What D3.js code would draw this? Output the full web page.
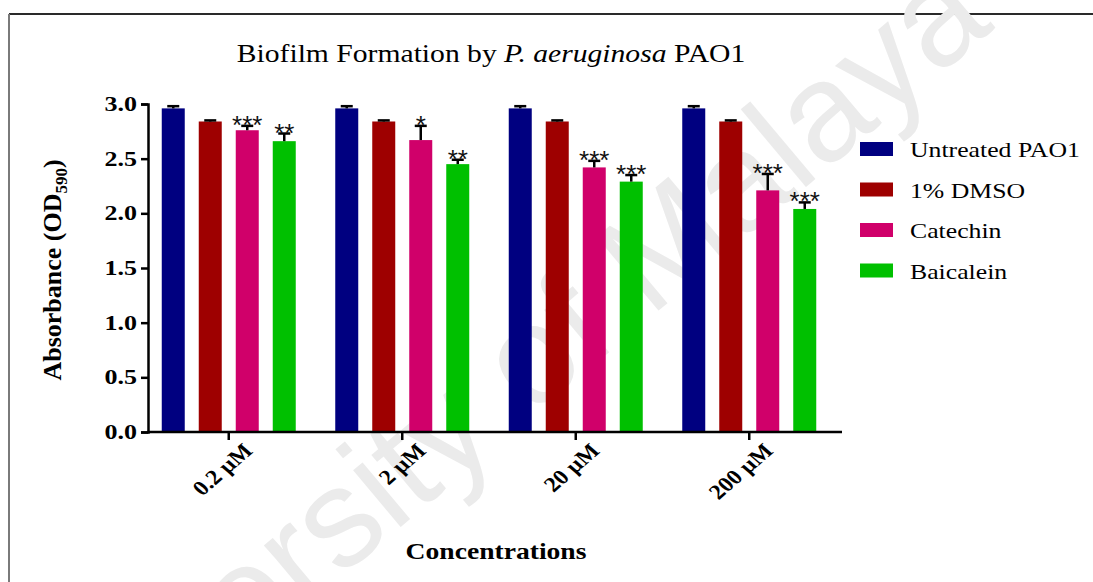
<!DOCTYPE html>
<html>
<head>
<meta charset="utf-8">
<script src="https://cdn.jsdelivr.net/npm/d3@7"></script>
<style>
  html, body { margin: 0; padding: 0; background: #fff; }
  svg { display: block; }
</style>
</head>
<body>
<svg id="chart" width="1093" height="582"></svg>
<script>
// ---- data ----
const concentrations = ["0.2 \u00b5M", "2 \u00b5M", "20 \u00b5M", "200 \u00b5M"];
const seriesNames = ["Untreated PAO1", "1% DMSO", "Catechin", "Baicalein"];
const untreated     = [2.96, 2.96, 2.96, 2.96];
const untreatedErr  = [0.02, 0.02, 0.02, 0.02];
const dmso          = [2.84, 2.84, 2.84, 2.84];
const dmsoErr       = [0.01, 0.01, 0.01, 0.01];
const catechin      = [2.76, 2.67, 2.42, 2.21];
const catechinErr   = [0.04, 0.13, 0.06, 0.15];
const baicalein     = [2.66, 2.45, 2.29, 2.04];
const baicaleinErr  = [0.07, 0.04, 0.06, 0.06];
const catechinSig   = ["***", "*", "***", "***"];
const baicaleinSig  = ["**", "**", "***", "***"];
const yTicks = [0, 0.5, 1.0, 1.5, 2.0, 2.5, 3.0];
const colors = ["#000080", "#9e0000", "#d0006a", "#00c000"];

const values = [untreated, dmso, catechin, baicalein];
const errors = [untreatedErr, dmsoErr, catechinErr, baicaleinErr];
const sigs   = [null, null, catechinSig, baicaleinSig];

const serif = "'Liberation Serif', 'Times New Roman', serif";
const sans  = "'Liberation Sans', Arial, sans-serif";

const svg = d3.select("#chart");

// page frame
svg.append("line").attr("x1", 9).attr("x2", 1093).attr("y1", 14).attr("y2", 14)
  .attr("stroke", "#2a2a2a").attr("stroke-width", 2);
svg.append("line").attr("x1", 9).attr("x2", 9).attr("y1", 14).attr("y2", 582)
  .attr("stroke", "#7a7a7a").attr("stroke-width", 2);

// faint watermark behind the chart
svg.append("text")
  .attr("transform", "translate(30,838) rotate(-40)")
  .attr("font-family", sans).attr("font-size", 140)
  .attr("fill", "#ebebeb")
  .text("University of Malaya");

// scales
const x0 = d3.scaleBand().domain(concentrations).range([142, 836]);
const x1 = d3.scaleBand().domain(seriesNames).range([-67, 67]).paddingInner(14 / 37).paddingOuter(0);
const y = d3.scaleLinear().domain([0, 3]).range([432, 104]);

// helper for horizontally stretched text
function stext(parent, x, yy, str, opts) {
  const g = parent.append("g")
    .attr("transform", `translate(${x},${yy}) scale(${opts.sx || 1},1)` + (opts.rotate ? ` rotate(${opts.rotate})` : ""));
  const t = g.append("text")
    .attr("font-family", opts.family || serif)
    .attr("font-size", opts.size)
    .attr("font-weight", opts.weight || 400)
    .attr("text-anchor", opts.anchor || "start")
    .attr("fill", opts.fill || "#000");
  if (typeof str === "string") t.text(str);
  else str(t);
  return g;
}

// bars
const groups = svg.append("g");
seriesNames.forEach((name, si) => {
  concentrations.forEach((c, ci) => {
    const v = values[si][ci];
    const bx = x0(c) + x0.bandwidth() / 2 + x1(name);
    const w = x1.bandwidth();
    groups.append("rect")
      .attr("x", bx).attr("y", y(v))
      .attr("width", w).attr("height", y(0) - y(v))
      .attr("fill", colors[si]);
    // error bar (upper only)
    const mid = bx + w / 2;
    const top = y(v + errors[si][ci]);
    groups.append("line").attr("x1", mid).attr("x2", mid).attr("y1", y(v)).attr("y2", top)
      .attr("stroke", "#000").attr("stroke-width", 2.5);
    groups.append("line").attr("x1", mid - 6).attr("x2", mid + 6).attr("y1", top).attr("y2", top)
      .attr("stroke", "#000").attr("stroke-width", 2.5);
    // significance stars
    if (sigs[si]) {
      groups.append("text")
        .attr("x", mid).attr("y", top + 8)
        .attr("text-anchor", "middle")
        .attr("font-family", sans).attr("font-size", 26)
        .attr("fill", "#111")
        .text(sigs[si][ci]);
    }
  });
});

// y axis
const yAxis = svg.append("g").attr("transform", "translate(148,0)")
  .call(d3.axisLeft(y).tickValues(yTicks).tickSize(7).tickFormat(d3.format(".1f")));
yAxis.select(".domain").attr("stroke", "#000").attr("stroke-width", 2.5);
yAxis.selectAll(".tick line").attr("stroke", "#000").attr("stroke-width", 2.5);
yAxis.selectAll(".tick text").remove();
yTicks.forEach(t => {
  stext(svg, 137, y(t) + 7, d3.format(".1f")(t), {size: 20, weight: 700, anchor: "end", sx: 1.3});
});

// x axis
svg.append("line").attr("x1", 147).attr("x2", 842).attr("y1", 432).attr("y2", 432)
  .attr("stroke", "#000").attr("stroke-width", 2.5);
const xAxis = svg.append("g").attr("transform", "translate(0,432)")
  .call(d3.axisBottom(x0).tickSize(8).tickSizeOuter(0));
xAxis.select(".domain").remove();
xAxis.selectAll(".tick line").attr("stroke", "#000").attr("stroke-width", 2.5);
xAxis.selectAll(".tick text").remove();
concentrations.forEach(c => {
  const cx = x0(c) + x0.bandwidth() / 2;
  stext(svg, cx + 25, 452, c, {size: 21, weight: 700, anchor: "end", rotate: -45, sx: 1.15});
});

// title
stext(svg, 491, 62, t => {
  t.append("tspan").text("Biofilm Formation by ");
  t.append("tspan").attr("font-style", "italic").text("P. aeruginosa");
  t.append("tspan").text(" PAO1");
}, {size: 26, anchor: "middle", sx: 1.14});

// axis titles
stext(svg, 496, 559, "Concentrations", {size: 24, weight: 700, anchor: "middle", sx: 1.15});
stext(svg, 61, 270, t => {
  t.append("tspan").text("Absorbance (OD");
  t.append("tspan").attr("font-size", 17).attr("dy", 6).text("590");
  t.append("tspan").attr("dy", -6).text(")");
}, {size: 26, weight: 700, anchor: "middle", rotate: -90});

// legend
seriesNames.forEach((name, i) => {
  const cy = 149 + i * 40.5;
  svg.append("rect").attr("x", 860).attr("y", cy - 7).attr("width", 33).attr("height", 14)
    .attr("fill", colors[i]);
  stext(svg, 910, cy + 8, name, {size: 22, sx: 1.17});
});
</script>
</body>
</html>
